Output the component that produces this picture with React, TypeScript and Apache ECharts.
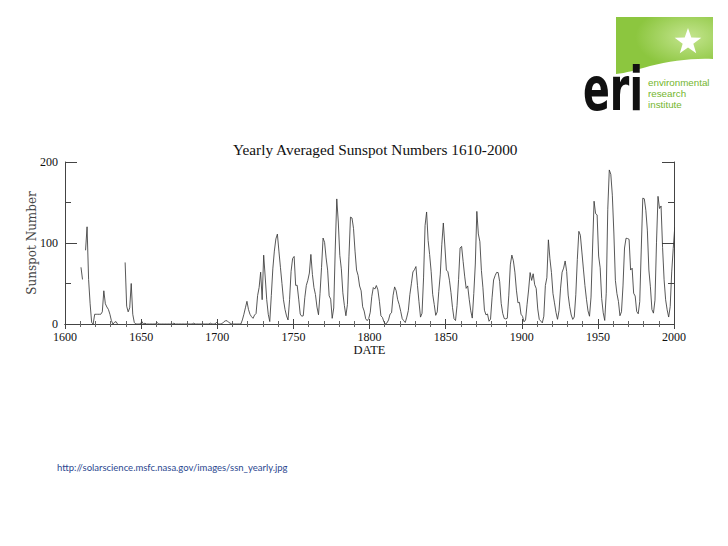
import React, { useEffect, useRef } from "react";
import * as echarts from "echarts";

// Yearly averaged sunspot numbers, plotted at mid-year
const PLOT_OFFSET = 0.5;

// 1610-1645 (null = no observations)
const START_EARLY = 1610;
const earlySpots: (number | null)[] = [
  70, 55, null, 91, 120, 55, 25, 2, 0, 12,
  12, 12, 12, 12, 15, 41, 25, 21, 18, 12,
  4, 0, 2, 3, 0, null, null, null, null, 76,
  22, 15, 20, 50, 12, 2,
];

// 1646-1714 Maunder minimum
const START_MAUNDER = 1646;
const maunderSpots: number[] = [
  0, 0, 0, 0,
  3, 0, 1, 0, 0, 0, 0, 0, 0, 0,
  2, 0, 0, 0, 0, 0, 0, 0, 0, 0,
  0, 1, 0, 0, 0, 0, 0, 0, 0, 0,
  0, 0, 0, 0, 1, 0, 0, 0, 0, 0,
  0, 0, 0, 0, 0, 1, 0, 0, 0, 2,
  0, 0, 0, 1, 3, 4, 4, 2, 1, 0,
  0, 0, 0, 0, 0,
];

// 1715-1748
const START_GROUP = 1715;
const groupSpots: number[] = [
  0, 5, 12, 20, 28, 18, 12, 9, 7, 11,
  13, 35, 45, 64, 30, 85, 58, 30, 12, 3,
  35, 68, 90, 105, 111, 90, 70, 50, 30, 18,
  10, 5, 30, 65,
];

// 1749-2000
const START_WOLF = 1749;
const wolfSpots: number[] = [
  80.9, 83.4, 47.7, 47.8, 30.7, 12.2, 9.6, 10.2, 32.4, 47.6, 54.0,
  62.9, 85.9, 61.2, 45.1, 36.4, 20.9, 11.4, 37.8, 69.8, 106.1,
  100.8, 81.6, 66.5, 34.8, 30.6, 7.0, 19.8, 92.5, 154.4, 125.9,
  84.8, 68.1, 38.5, 22.8, 10.2, 24.1, 82.9, 132.0, 130.9, 118.1,
  89.9, 66.6, 60.0, 46.9, 41.0, 21.3, 16.0, 6.4, 4.1, 6.8,
  14.5, 34.0, 45.0, 43.1, 47.5, 42.2, 28.1, 10.1, 8.1, 2.5,
  0.0, 1.4, 5.0, 12.2, 13.9, 35.4, 45.8, 41.1, 30.1, 23.9,
  15.6, 6.6, 4.0, 1.8, 8.5, 16.6, 36.3, 49.6, 64.2, 67.0,
  70.9, 47.8, 27.5, 8.5, 13.2, 56.9, 121.5, 138.3, 103.2, 85.7,
  64.6, 36.7, 24.2, 10.7, 15.0, 40.1, 61.5, 98.5, 124.7, 96.3,
  66.6, 64.5, 54.1, 39.0, 20.6, 6.7, 4.3, 22.7, 54.8, 93.8,
  95.8, 77.2, 59.1, 44.0, 47.0, 30.5, 16.3, 7.3, 37.6, 74.0,
  139.0, 111.2, 101.6, 66.2, 44.7, 17.0, 11.3, 12.4, 3.4, 6.0,
  32.3, 54.3, 59.7, 63.7, 63.5, 52.2, 25.4, 13.1, 6.8, 6.3,
  7.1, 35.6, 73.0, 85.1, 78.0, 64.0, 41.8, 26.2, 26.7, 12.1,
  9.5, 2.7, 5.0, 24.4, 42.0, 63.5, 53.8, 62.0, 48.5, 43.9,
  18.6, 5.7, 3.6, 1.4, 9.6, 47.4, 57.1, 103.9, 80.6, 63.6,
  37.6, 26.1, 14.2, 5.8, 16.7, 44.3, 63.9, 69.0, 77.8, 64.9,
  35.7, 21.2, 11.1, 5.7, 8.7, 36.1, 79.7, 114.4, 109.6, 88.8,
  67.8, 47.5, 30.6, 16.3, 9.6, 33.2, 92.6, 151.6, 136.3, 134.7,
  83.9, 69.4, 31.5, 13.9, 4.4, 38.0, 141.7, 190.2, 184.8, 159.0,
  112.3, 53.9, 37.6, 27.9, 10.2, 15.1, 47.0, 93.8, 105.9, 105.5,
  104.5, 66.6, 68.9, 38.0, 34.5, 15.5, 12.6, 27.5, 92.5, 155.4,
  154.6, 140.4, 115.9, 66.6, 45.9, 17.9, 13.4, 29.4, 100.2, 157.6,
  142.6, 145.7, 94.3, 54.6, 29.9, 17.5, 8.6, 21.5, 64.3, 93.3,
  119.6,
];

const X_MIN = 1600;
const X_MAX = 2000;
const X_STEP = 50;
const Y_MIN = 0;
const Y_MAX = 200;
const Y_STEP = 100;

const TITLE = "Yearly Averaged Sunspot Numbers 1610-2000";
const X_NAME = "DATE";
const Y_NAME = "Sunspot Number";
const SOURCE_URL = "http://solarscience.msfc.nasa.gov/images/ssn_yearly.jpg";
const LOGO_WORDS = ["environmental", "research", "institute"];

function toPoints(start: number, values: (number | null)[]) {
  return values.map((v, i) => [start + i + PLOT_OFFSET, v]);
}

const seriesData = [
  ...toPoints(START_EARLY, earlySpots),
  ...toPoints(START_MAUNDER, maunderSpots),
  ...toPoints(START_GROUP, groupSpots),
  ...toPoints(START_WOLF, wolfSpots),
];

let shapeRegistered = false;
function registerLogoShape() {
  if (shapeRegistered) return;
  echarts.graphic.registerShape(
    "logoGreen",
    echarts.graphic.extendPath(
      "M616 17 L713 17 L713 59 C692 58 670 61 650 66 C636 70 626 73 616 74 Z",
      {}
    )
  );
  shapeRegistered = true;
}

function starPoints(cx: number, cy: number, ro: number, ri: number) {
  const pts: number[][] = [];
  for (let k = 0; k < 10; k++) {
    const a = -Math.PI / 2 + (k * Math.PI) / 5;
    const r = k % 2 === 0 ? ro : ri;
    pts.push([cx + r * Math.cos(a), cy + r * Math.sin(a)]);
  }
  return pts;
}

export default function App() {
  const ref = useRef<HTMLDivElement>(null);

  useEffect(() => {
    if (!ref.current) return;
    registerLogoShape();
    const chart = echarts.init(ref.current, undefined, { renderer: "svg" });
    const frame = "#444";
    const serif = "'Liberation Serif', 'Times New Roman', serif";

    const xCommon = {
      type: "value" as const,
      min: X_MIN,
      max: X_MAX,
      interval: X_STEP,
      splitLine: { show: false },
      axisLine: { show: true, lineStyle: { color: frame, width: 1 } },
      axisTick: { show: true, inside: true, length: 5, lineStyle: { color: frame } },
      minorTick: { show: true, splitNumber: 5, length: 3, lineStyle: { color: "#666" } },
    };
    const yCommon = {
      type: "value" as const,
      min: Y_MIN,
      max: Y_MAX,
      interval: Y_STEP,
      splitLine: { show: false },
      axisLine: { show: true, lineStyle: { color: frame, width: 1 } },
      axisTick: { show: true, inside: true, length: 12, lineStyle: { color: frame } },
      minorTick: { show: true, splitNumber: 2, length: 6, lineStyle: { color: frame } },
    };

    const logoWordTexts = LOGO_WORDS.map((w, i) => ({
      type: "text",
      x: 648,
      y: 82 + i * 11,
      style: {
        text: w,
        fontFamily: "'Liberation Sans', Arial, sans-serif",
        fontSize: 9.8,
        lineHeight: 10,
        fill: "#74b62e",
        verticalAlign: "middle",
        align: "left",
      },
    }));

    chart.setOption({
      animation: false,
      backgroundColor: "#ffffff",
      title: {
        text: TITLE,
        left: 228,
        top: 137,
        textStyle: { fontFamily: serif, fontSize: 15.3, fontWeight: "normal", color: "#111" },
      },
      grid: { left: 65, top: 162, width: 609, height: 162, containLabel: false },
      xAxis: [
        {
          ...xCommon,
          position: "bottom",
          axisLabel: {
            show: true,
            color: "#111",
            fontFamily: serif,
            fontSize: 12,
            margin: 7,
            formatter: (v: number) => String(v),
          },
          name: X_NAME,
          nameLocation: "middle",
          nameGap: 19,
          nameMoveOverlap: false,
          nameTextStyle: { color: "#111", fontFamily: serif, fontSize: 12.5 },
        },
        {
          ...xCommon,
          position: "top",
          axisLabel: { show: false },
        },
      ],
      yAxis: [
        {
          ...yCommon,
          position: "left",
          axisLabel: {
            show: true,
            color: "#111",
            fontFamily: serif,
            fontSize: 12,
            margin: 7,
            formatter: (v: number) => String(v),
          },
          name: Y_NAME,
          nameLocation: "middle",
          nameRotate: 90,
          nameGap: 27,
          nameMoveOverlap: false,
          nameTextStyle: { color: "#444", fontFamily: "'DejaVu Serif', serif", fontSize: 12 },
        },
        {
          ...yCommon,
          position: "right",
          axisLabel: { show: false },
        },
      ],
      series: [
        {
          type: "line",
          xAxisIndex: 0,
          yAxisIndex: 0,
          data: seriesData,
          showSymbol: false,
          connectNulls: false,
          clip: true,
          lineStyle: { color: "#3a3a3a", width: 0.85 },
          silent: true,
        },
      ],
      graphic: [
        {
          type: "logoGreen",
          x: 0,
          y: 0,
          style: {
            fill: new echarts.graphic.RadialGradient(0.75, 0.35, 0.55, [
              { offset: 0, color: "#c4e58f" },
              { offset: 1, color: "#8cc63f" },
            ]),
          },
        },
        {
          type: "polygon",
          shape: { points: starPoints(688, 42, 14, 5.6) },
          style: { fill: "#ffffff" },
        },
        {
          type: "text",
          x: 583,
          y: 89,
          scaleX: 0.66,
          style: {
            text: "eri",
            fontFamily: "'DejaVu Sans', sans-serif",
            fontWeight: "bold",
            fontSize: 60,
            fill: "#111",
            verticalAlign: "middle",
            align: "left",
          },
        },
        ...logoWordTexts,
        {
          type: "text",
          x: 57,
          y: 467,
          style: {
            text: SOURCE_URL,
            fontFamily: "Lato, 'Open Sans', sans-serif",
            fontSize: 9.5,
            fill: "#2b4790",
            verticalAlign: "middle",
            align: "left",
          },
        },
      ],
    });

    return () => chart.dispose();
  }, []);

  return (
    <div
      ref={ref}
      style={{ position: "fixed", left: 0, top: 0, width: 728, height: 546, background: "#fff" }}
    />
  );
}
